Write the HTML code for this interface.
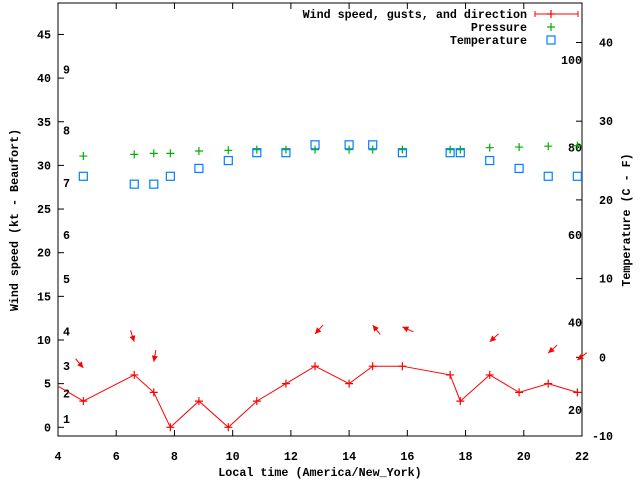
<!DOCTYPE html>
<html><head><meta charset="utf-8"><style>
body{margin:0;background:#fff}
svg text{font-family:"Liberation Mono",monospace;font-weight:bold;font-size:11.7px;fill:#000;white-space:pre}
</style></head><body>
<svg id="chart" width="640" height="480" xmlns="http://www.w3.org/2000/svg">
<rect width="640" height="480" fill="#fff"/>
<g id="g"></g>
</svg>
<script>
const times=[4.87,6.62,7.29,7.86,8.84,9.85,10.83,11.83,12.83,14.0,14.81,15.83,17.47,17.82,18.83,19.84,20.84,21.84];
const windKt=[3,6,4,0,3,0,3,5,7,5,7,7,6,3,6,4,5,4];
const windLead=[3.85,5];
const pressureScaled=[31.07,31.26,31.38,31.38,31.65,31.73,31.8,31.8,31.8,31.8,31.8,31.8,31.8,31.8,32.03,32.1,32.2,32.26];
const tempC=[23,22,22,23,24,25,26,26,27,27,27,26,26,26,25,24,23,23];
const arrowTimes=[4.87,6.62,7.29,12.83,14.81,15.83,18.83,20.84,21.84];
const arrowKt=[6.8,9.8,7.5,10.7,11.7,11.5,9.8,8.5,7.7];
const arrowDeg=[50,72,100,132,231,204,138,138,142];
const xTicks=[4,6,8,10,12,14,16,18,20,22];
const yTicks=[0,5,10,15,20,25,30,35,40,45];
const y2Ticks=[-10,0,10,20,30,40];
const fTicks=[20,40,60,80,100];
const beaufortNums=[1,2,3,4,5,6,7,8,9];
const beaufortKt=[0.95,3.9,7,11,17,22,28,34,41];

const L=58,R=582,T=3,B=436;
const X=t=>L+(t-4)*(R-L)/18;
const Y=k=>427.3-k*8.73;
const Y2=c=>357.3-c*7.87;
const g=document.getElementById('g');
const NS='http://www.w3.org/2000/svg';
function mk(tag,attrs,name,parent){const e=document.createElementNS(NS,tag);for(const k in attrs)e.setAttribute(k,attrs[k]);


(parent||g).appendChild(e);return e;}
function txt(x,y,s,anchor,name,extra){const e=mk('text',Object.assign({x:x,y:y,'text-anchor':anchor||'start'},extra||{}),name);e.textContent=s;return e;}
function plus(x,y,c,name,sz){sz=sz||4;const p=mk('path',{d:`M${x-sz} ${y}H${x+sz}M${x} ${y-sz}V${y+sz}`,stroke:c,'stroke-width':1.2,fill:'none'},name);return p;}

// border
mk('rect',{x:L,y:T,width:R-L,height:B-T,fill:'none',stroke:'#000','stroke-width':1},'plot-border');
xTicks.forEach(t=>{const x=X(t);
mk('path',{d:`M${x} ${B}V${B-6}M${x} ${T}V${T+6}`,stroke:'#000'},'x-tick');
txt(x,460,String(t),'middle','x-tick-label');});
yTicks.forEach(v=>{const y=Y(v);
mk('path',{d:`M${L} ${y}H${L+6}`,stroke:'#000'},'y-tick');
txt(51,y+4,String(v),'end','y-tick-label');});
y2Ticks.forEach(v=>{const y=Y2(v);
mk('path',{d:`M${R} ${y}H${R-6}`,stroke:'#000'},'y2-tick');
txt(592,y+4,(v<0?'':' ')+v,'start','y2-tick-label');});
fTicks.forEach(f=>{const c=(f-32)*5/9;txt(582,Y2(c)+4,String(f),'end','fahrenheit-label');});
beaufortNums.forEach((n,i)=>txt(63,Y(beaufortKt[i])+4,String(n),'start','beaufort-label'));

txt(320,476,'Local time (America/New_York)','middle','x-axis-title');
txt(18,220,'Wind speed (kt - Beaufort)','middle','y-axis-title',{transform:'rotate(-90 18 220)'});
txt(630,220,'Temperature (C - F)','middle','y2-axis-title',{transform:'rotate(-90 630 220)'});

// clip
const defs=mk('defs',{},'defs');
const cp=mk('clipPath',{id:'clip'},'clip',defs);
mk('rect',{x:L,y:T,width:R-L,height:B-T},'clip-rect',cp);

// wind line
let pts=[[X(windLead[0]),Y(windLead[1])]].concat(times.map((t,i)=>[X(t),Y(windKt[i])]));
mk('polyline',{points:pts.map(p=>p.join(',')).join(' '),fill:'none',stroke:'#f00','stroke-width':1,'clip-path':'url(#clip)'},'wind-speed-line');
times.forEach((t,i)=>plus(X(t),Y(windKt[i]),'#f00','wind-point'));

// arrows
arrowTimes.forEach((t,i)=>{const hx=X(t),hy=Y(arrowKt[i]);const a=arrowDeg[i]*Math.PI/180;
const dx=Math.cos(a),dy=Math.sin(a),len=12;
const tx=hx-dx*len,ty=hy-dy*len;
mk('line',{x1:tx,y1:ty,x2:hx,y2:hy,stroke:'#f00','stroke-width':1},'wind-direction-arrow');
const px=-dy,py=dx,h=6,w=3;
mk('polygon',{points:`${hx},${hy} ${hx-dx*h+px*w},${hy-dy*h+py*w} ${hx-dx*h-px*w},${hy-dy*h-py*w}`,fill:'#f00'},'wind-arrow-head');});

// pressure
times.forEach((t,i)=>plus(X(t),Y(pressureScaled[i]),'#00b000','pressure-point'));
// temperature
times.forEach((t,i)=>mk('rect',{x:X(t)-4,y:Y2(tempC[i])-4,width:8,height:8,fill:'none',stroke:'#0080ff','stroke-width':1.2},'temperature-point'));

// legend
txt(527,18,'Wind speed, gusts, and direction','end','legend-wind-label');
mk('path',{d:'M535 14H578M535 11V17M578 11V17',stroke:'#f00'},'legend-wind-sample');
plus(551,14,'#f00','legend-wind-plus');
txt(527,31,'Pressure','end','legend-pressure-label');
plus(551,27,'#00b000','legend-pressure-sample');
txt(527,44,'Temperature','end','legend-temperature-label');
mk('rect',{x:547,y:36,width:8,height:8,fill:'none',stroke:'#0080ff','stroke-width':1.2},'legend-temperature-sample');
</script>
</body></html>
